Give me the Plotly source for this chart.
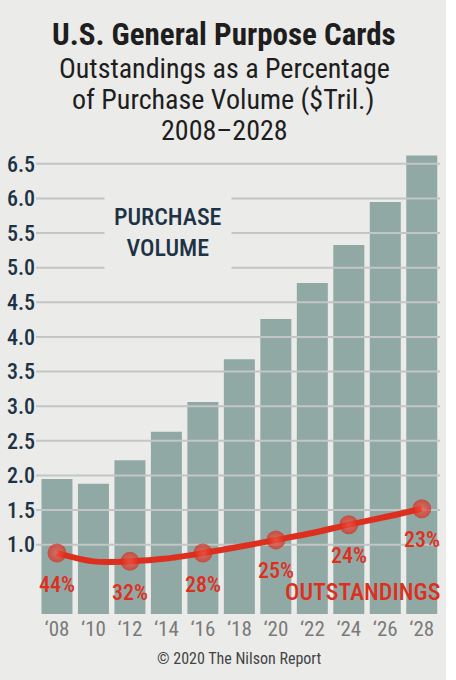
import plotly.graph_objects as go

# data
years = [2008, 2010, 2012, 2014, 2016, 2018, 2020, 2022, 2024, 2026, 2028]
year_labels = ["‘08", "‘10", "‘12", "‘14", "‘16", "‘18", "‘20", "‘22", "‘24", "‘26", "‘28"]
purchase_volume = [1.95, 1.88, 2.22, 2.63, 3.06, 3.68, 4.26, 4.78, 5.33, 5.95, 6.62]
outstandings = [0.88, 0.76, 0.76, 0.80, 0.88, 0.97, 1.07, 1.17, 1.29, 1.40, 1.52]
pct_years = [2008, 2012, 2016, 2020, 2024, 2028]
pct_labels = ["44%", "32%", "28%", "25%", "24%", "23%"]
y_ticks = [1.0, 1.5, 2.0, 2.5, 3.0, 3.5, 4.0, 4.5, 5.0, 5.5, 6.0, 6.5]

W, H = 456, 680
ML, MR, MT, MB = 36, 16, 150, 66
COND = "Roboto Condensed, Roboto, sans-serif"
BG = "#ebebe9"
RED = "#de2f1e"
NAVY = "#1d3345"
INK = "#1e1e1e"


def px_x(px):
    return (px - ML) / (W - ML - MR)


def px_y(py):
    return (H - MB - py) / (H - MT - MB)


def label(px, py, text, size, color, weight=400, **kw):
    return dict(x=px_x(px), y=px_y(py), xref="paper", yref="paper",
                xanchor="center", yanchor="middle", showarrow=False, text=text,
                font=dict(family=COND, size=size, color=color, weight=weight), **kw)


fig = go.Figure()

fig.add_trace(go.Bar(
    x=years, y=purchase_volume, width=1.7,
    marker=dict(color="#91a9a5", line=dict(width=0)),
    hoverinfo="skip",
))

# grid lines drawn over the bars
gx, gy = [], []
for t in y_ticks:
    gx += [2006.85, 2029.0, None]
    gy += [t, t, None]
fig.add_trace(go.Scatter(
    x=gx, y=gy, mode="lines",
    line=dict(color="#c2c6c4", width=2),
    hoverinfo="skip",
))

marker_sizes = [19 if y in pct_years else 0 for y in years]
fig.add_trace(go.Scatter(
    x=years, y=outstandings, mode="lines+markers",
    line=dict(color=RED, width=6, shape="spline", smoothing=0.8),
    marker=dict(size=marker_sizes, color="#d8281a",
                gradient=dict(type="radial", color="#f25a48"),
                line=dict(width=0)),
    hoverinfo="skip",
))

annotations = []
for yr, lab in zip(pct_years, pct_labels):
    yv = outstandings[years.index(yr)]
    annotations.append(dict(
        x=yr, y=yv, text=lab, showarrow=False, yshift=-31,
        xanchor="center", yanchor="middle",
        font=dict(family=COND, size=22, color=RED, weight=500),
    ))

annotations += [
    label(224, 34, "U.S. General Purpose Cards", 31, INK, weight=700),
    label(224, 68, "Outstandings as a Percentage", 28, INK),
    label(223, 100, "of Purchase Volume ($Tril.)", 28, INK),
    label(224, 130, "2008–2028", 28, INK),
    label(168, 232, "PURCHASE<br>VOLUME", 24, NAVY, weight=500, bgcolor=BG, borderpad=9),
    label(362, 592, "OUTSTANDINGS", 24, RED, weight=500),
    label(239, 658, "© 2020 The Nilson Report", 16, "#444444"),
]

fig.update_layout(
    width=W, height=H,
    margin=dict(l=ML, r=MR, t=MT, b=MB),
    paper_bgcolor=BG, plot_bgcolor=BG,
    showlegend=False,
    annotations=annotations,
    shapes=[dict(type="rect", xref="paper", yref="paper",
                 x0=px_x(446), x1=px_x(W + 5), y0=px_y(H + 5), y1=px_y(-5),
                 fillcolor="white", line=dict(width=0), layer="below")],
)
fig.update_xaxes(
    range=[2006.85, 2029.0], tickvals=years, ticktext=year_labels,
    showgrid=False, zeroline=False, showline=False, ticks="", automargin=False,
    tickfont=dict(family=COND, size=21, color="#7a7a7a"),
)
fig.update_yaxes(
    range=[0, 6.7], tickvals=y_ticks, ticktext=[f"{t:.1f}" for t in y_ticks],
    showgrid=False, zeroline=False, showline=False, ticks="", automargin=False,
    tickfont=dict(family=COND, size=22, color=NAVY, weight=500),
)

fig.write_html("out.html", config={"displayModeBar": False},
               post_script="document.body.style.margin='0';")
